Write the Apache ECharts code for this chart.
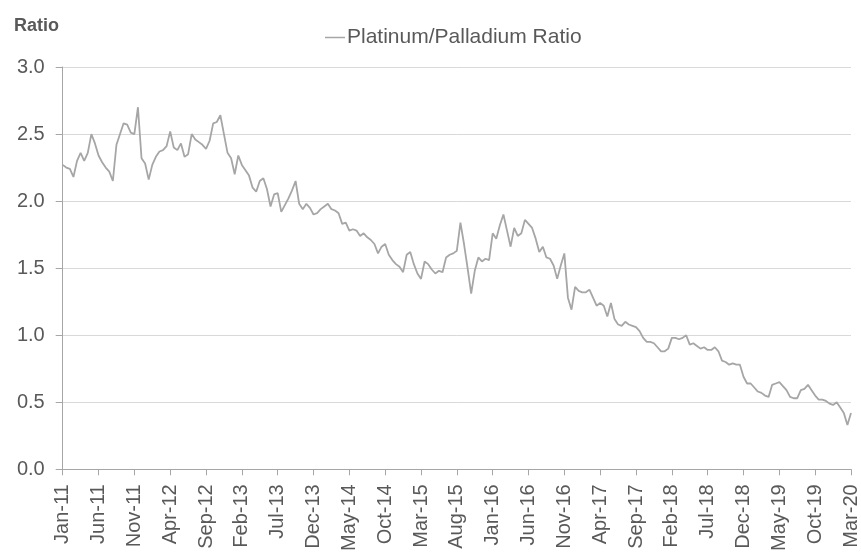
<!DOCTYPE html>
<html>
<head>
<meta charset="utf-8">
<script src="https://cdn.jsdelivr.net/npm/echarts@6/dist/echarts.min.js"></script>
<style>html,body{margin:0;padding:0;background:#fff}#c{width:861px;height:554px}</style>
</head>
<body>
<div id="c"></div>
<script>
// Tick labels shown every 5 months (10 half-month steps)
const tickLabels = ['Jan-11','Jun-11','Nov-11','Apr-12','Sep-12','Feb-13','Jul-13','Dec-13','May-14','Oct-14','Mar-15','Aug-15','Jan-16','Jun-16','Nov-16','Apr-17','Sep-17','Feb-18','Jul-18','Dec-18','May-19','Oct-19','Mar-20'];

// Platinum/Palladium ratio, half-monthly readings Jan-2011 .. Mar-2020
const ratio = [
2.27,2.25,2.24,2.18,2.30,2.36,2.30,2.36,2.50,2.43,
2.34,2.29,2.25,2.22,2.15,2.42,2.50,2.58,2.57,2.51,
2.50,2.70,2.32,2.28,2.16,2.27,2.33,2.37,2.38,2.41,
2.52,2.40,2.38,2.43,2.33,2.35,2.50,2.46,2.44,2.42,
2.39,2.45,2.58,2.59,2.64,2.50,2.36,2.32,2.20,2.34,
2.27,2.23,2.19,2.10,2.07,2.15,2.17,2.09,1.96,2.05,
2.06,1.92,1.97,2.02,2.08,2.15,1.98,1.94,1.98,1.95,
1.90,1.91,1.94,1.96,1.98,1.94,1.93,1.91,1.83,1.84,
1.78,1.79,1.78,1.74,1.76,1.73,1.71,1.68,1.61,1.66,
1.68,1.60,1.56,1.53,1.51,1.47,1.60,1.62,1.53,1.46,
1.42,1.55,1.53,1.49,1.46,1.48,1.47,1.58,1.60,1.61,
1.63,1.84,1.68,1.50,1.31,1.48,1.58,1.55,1.57,1.56,
1.76,1.72,1.82,1.90,1.78,1.66,1.80,1.74,1.76,1.86,
1.83,1.80,1.72,1.62,1.66,1.58,1.57,1.52,1.42,1.52,
1.61,1.28,1.19,1.36,1.33,1.32,1.32,1.34,1.28,1.22,
1.24,1.22,1.14,1.24,1.12,1.08,1.07,1.10,1.08,1.07,
1.06,1.03,0.98,0.95,0.95,0.94,0.91,0.88,0.88,0.90,
0.98,0.98,0.97,0.98,1.00,0.93,0.94,0.92,0.90,0.91,
0.89,0.89,0.91,0.88,0.81,0.80,0.78,0.79,0.78,0.78,
0.69,0.64,0.64,0.61,0.58,0.57,0.55,0.54,0.63,0.64,
0.65,0.62,0.59,0.54,0.53,0.53,0.59,0.60,0.63,0.59,
0.55,0.52,0.52,0.51,0.49,0.48,0.50,0.46,0.42,0.33,
0.42
];

const categories = ratio.map((_, j) => {
  const m = Math.floor(j / 2);
  const y = 2011 + Math.floor(m / 12);
  const mo = (m % 12) + 1;
  return y + '-' + String(mo).padStart(2, '0') + (j % 2 ? '-15' : '-01');
});

const FONT = 'Liberation Sans, Arial, sans-serif';
const chart = echarts.init(document.getElementById('c'), null, {renderer: 'canvas'});
chart.setOption({
  animation: false,
  backgroundColor: '#ffffff',
  title: {
    text: 'Ratio', left: 9, top: 12,
    textStyle: {fontFamily: FONT, fontSize: 18, fontWeight: 'bold', color: '#595959'}
  },
  legend: {
    left: 320, top: 22,
    icon: 'rect', itemWidth: 20, itemHeight: 1.5, itemGap: 10,
    textStyle: {fontFamily: FONT, fontSize: 21, color: '#595959', padding: [0,0,0,-3]},
    data: ['Platinum/Palladium Ratio']
  },
  grid: {left: 62.7, right: 5, top: 67, bottom: 83, containLabel: false},
  xAxis: {
    type: 'category',
    data: categories,
    boundaryGap: false,
    axisLine: {lineStyle: {color: '#a6a6a6', width: 1}},
    axisTick: {show: true, interval: 9, length: 6, lineStyle: {color: '#a6a6a6'}},
    axisLabel: {
      interval: 9, rotate: 90, margin: 15,
      fontFamily: FONT, fontSize: 20, color: '#595959',
      formatter: (v, idx) => (idx % 10 === 0 ? tickLabels[idx / 10] : '')
    },
    splitLine: {show: false}
  },
  yAxis: {
    type: 'value', min: 0, max: 3, interval: 0.5,
    axisLine: {show: true, lineStyle: {color: '#a6a6a6', width: 1}},
    axisTick: {show: true, length: 7, lineStyle: {color: '#a6a6a6'}},
    axisLabel: {
      margin: 18, fontFamily: FONT, fontSize: 20, color: '#595959',
      formatter: v => v.toFixed(1)
    },
    splitLine: {lineStyle: {color: '#d9d9d9', width: 1}}
  },
  series: [{
    name: 'Platinum/Palladium Ratio',
    type: 'line',
    data: ratio,
    symbol: 'none',
    lineStyle: {color: '#a6a6a6', width: 1.8},
    itemStyle: {color: '#a6a6a6'}
  }]
});
</script>
</body>
</html>
